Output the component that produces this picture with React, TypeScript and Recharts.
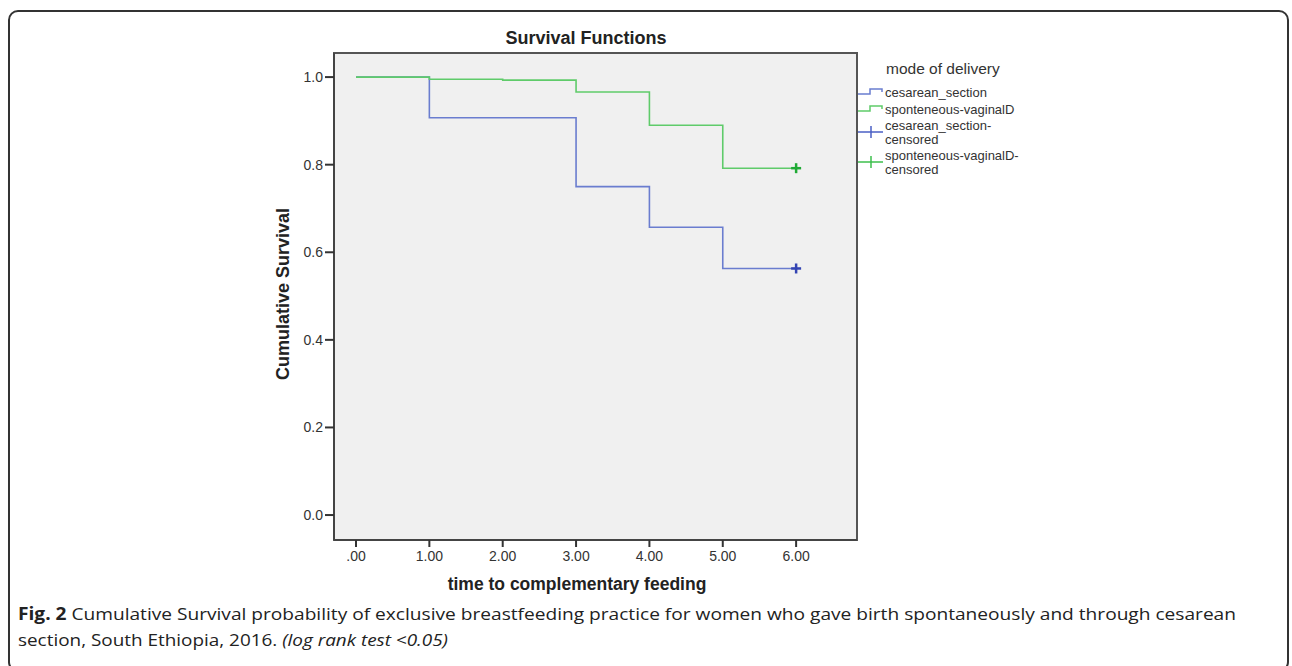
import React from "react";
import {
  ComposedChart,
  Line,
  Scatter,
  XAxis,
  YAxis,
  CartesianGrid,
  ReferenceArea,
} from "recharts";

// ---- data ----
const times = [0, 1, 2, 3, 4, 5, 6];
const cesareanSurvival = [1.0, 0.907, 0.907, 0.75, 0.657, 0.563, 0.563];
const vaginalSurvival = [1.0, 0.995, 0.993, 0.966, 0.89, 0.792, 0.792];
const censorTime = 6;
const cesareanCensored = [0.563];
const vaginalCensored = [0.792];

const xTicks = [0, 1, 2, 3, 4, 5, 6];
const xTickLabels = [".00", "1.00", "2.00", "3.00", "4.00", "5.00", "6.00"];
const yTicks = [0, 0.2, 0.4, 0.6, 0.8, 1.0];
const yTickLabels = ["0.0", "0.2", "0.4", "0.6", "0.8", "1.0"];

const legendTitle = "mode of delivery";
const legendItems = [
  { kind: "step", color: "#6a7dcf", lines: ["cesarean_section"] },
  { kind: "step", color: "#5fcb6a", lines: ["sponteneous-vaginalD"] },
  { kind: "cross", color: "#4a5fc4", lines: ["cesarean_section-", "censored"] },
  { kind: "cross", color: "#3cbf4c", lines: ["sponteneous-vaginalD-", "censored"] },
];

const table = times.map((t, i) => ({
  t,
  ces: cesareanSurvival[i],
  vag: vaginalSurvival[i],
}));
const cesCens = cesareanCensored.map((v) => ({ t: censorTime, v }));
const vagCens = vaginalCensored.map((v) => ({ t: censorTime, v }));

const X_DOMAIN = [-0.3, 6.83];
const Y_DOMAIN = [-0.057, 1.055];

const FONT = "'Liberation Sans', Arial, sans-serif";

const crossShape = (color: string) => (props: any) => {
  const { cx, cy } = props;
  const s = 5;
  return (
    <g>
      <line x1={cx - s} y1={cy} x2={cx + s} y2={cy} stroke={color} strokeWidth={2.5} />
      <line x1={cx} y1={cy - s} x2={cx} y2={cy + s} stroke={color} strokeWidth={2.5} />
    </g>
  );
};

export default function App() {
  return (
    <div
      style={{
        position: "absolute",
        left: 0,
        top: 0,
        width: 1292,
        height: 666,
        background: "#fff",
        overflow: "hidden",
        fontFamily: FONT,
      }}
    >
      <div style={{ position: "absolute", left: 0, top: 0 }}>
        <ComposedChart
          width={1292}
          height={666}
          data={table}
          margin={{ top: 53, right: 435, bottom: 96, left: 274 }}
        >
          <CartesianGrid horizontal={false} vertical={false} fill="#f0f0f0" />
          <XAxis
            dataKey="t"
            type="number"
            domain={X_DOMAIN}
            allowDataOverflow
            ticks={xTicks}
            tickFormatter={(v: number) => xTickLabels[xTicks.indexOf(v)] ?? ""}
            height={30}
            tickSize={7}
            tickMargin={4}
            axisLine={{ stroke: "#444", strokeWidth: 2 }}
            tickLine={{ stroke: "#333", strokeWidth: 2 }}
            tick={{ fill: "#333", fontSize: 14, fontFamily: FONT }}
          />
          <YAxis
            type="number"
            domain={Y_DOMAIN}
            allowDataOverflow
            ticks={yTicks}
            tickFormatter={(v: number) => yTickLabels[yTicks.indexOf(v)] ?? ""}
            width={60}
            tickSize={9}
            tickMargin={2}
            axisLine={{ stroke: "#444", strokeWidth: 2 }}
            tickLine={{ stroke: "#333", strokeWidth: 2 }}
            tick={{ fill: "#333", fontSize: 14, fontFamily: FONT }}
          />
          <ReferenceArea
            x1={X_DOMAIN[0]}
            x2={X_DOMAIN[1]}
            y1={Y_DOMAIN[0]}
            y2={Y_DOMAIN[1]}
            fill="none"
            fillOpacity={0}
            stroke="#555"
            strokeWidth={2}
            ifOverflow="visible"
          />
          <Line
            type="stepAfter"
            dataKey="ces"
            stroke="#6a7dcf"
            strokeWidth={1.6}
            dot={false}
            activeDot={false}
            isAnimationActive={false}
          />
          <Line
            type="stepAfter"
            dataKey="vag"
            stroke="#5fcb6a"
            strokeWidth={1.6}
            dot={false}
            activeDot={false}
            isAnimationActive={false}
          />
          <Scatter
            data={cesCens}
            dataKey="v"
            shape={crossShape("#3344b3")}
            isAnimationActive={false}
          />
          <Scatter
            data={vagCens}
            dataKey="v"
            shape={crossShape("#1faa35")}
            isAnimationActive={false}
          />
        </ComposedChart>
      </div>
      <svg
        width={1292}
        height={666}
        style={{ position: "absolute", left: 0, top: 0, pointerEvents: "none" }}
      >
        <rect
          x={9}
          y={11}
          width={1279}
          height={660}
          rx={9}
          ry={9}
          fill="none"
          stroke="#333"
          strokeWidth={2}
        />
        <text
          x={586}
          y={44}
          textAnchor="middle"
          fontFamily={FONT}
          fontWeight="bold"
          fontSize={18}
          fill="#222"
        >
          Survival Functions
        </text>
        <text
          x={577}
          y={590}
          textAnchor="middle"
          fontFamily={FONT}
          fontWeight="bold"
          fontSize={17.5}
          fill="#222"
        >
          time to complementary feeding
        </text>
        <text
          x={0}
          y={0}
          transform="translate(289 294) rotate(-90)"
          textAnchor="middle"
          fontFamily={FONT}
          fontWeight="bold"
          fontSize={18}
          fill="#222"
        >
          Cumulative Survival
        </text>
        {/* legend */}
        <text x={886} y={74} fontFamily={FONT} fontSize={15.5} fill="#333">
          {legendTitle}
        </text>
        {(() => {
          const rowsY = [92, 109, 132, 162];
          const lineGap = 14;
          return legendItems.map((it, i) => {
            const cy = rowsY[i];
            const icon =
              it.kind === "step" ? (
                <polyline
                  points={`858,${cy + 2} 870,${cy + 2} 870,${cy - 3} 882,${cy - 3} 882,${cy}`}
                  fill="none"
                  stroke={it.color}
                  strokeWidth={1.5}
                />
              ) : (
                <g>
                  <line x1={858} y1={cy} x2={883} y2={cy} stroke={it.color} strokeWidth={1.5} />
                  <line x1={871} y1={cy - 6} x2={871} y2={cy + 6} stroke={it.color} strokeWidth={1.5} />
                </g>
              );
            const n = it.lines.length;
            return (
              <g key={i}>
                {icon}
                {it.lines.map((ln, j) => (
                  <text
                    key={j}
                    x={885}
                    y={cy + 4.5 + (j - (n - 1) / 2) * lineGap}
                    fontFamily={FONT}
                    fontSize={13}
                    fill="#333"
                  >
                    {ln}
                  </text>
                ))}
              </g>
            );
          });
        })()}
        {/* caption */}
        <text
          x={18}
          y={620}
          fontFamily="'Open Sans', sans-serif"
          fontSize={17}
          fill="#222"
          textLength={1218}
          lengthAdjust="spacingAndGlyphs"
        >
          <tspan fontWeight="bold">Fig. 2</tspan>
          <tspan> Cumulative Survival probability of exclusive breastfeeding practice for women who gave birth spontaneously and through cesarean</tspan>
        </text>
        <text
          x={18}
          y={646}
          fontFamily="'Open Sans', sans-serif"
          fontSize={17}
          fill="#222"
          textLength={430}
          lengthAdjust="spacingAndGlyphs"
        >
          <tspan>section, South Ethiopia, 2016. </tspan>
          <tspan fontStyle="italic">(log rank test &lt;0.05)</tspan>
        </text>
      </svg>
    </div>
  );
}
